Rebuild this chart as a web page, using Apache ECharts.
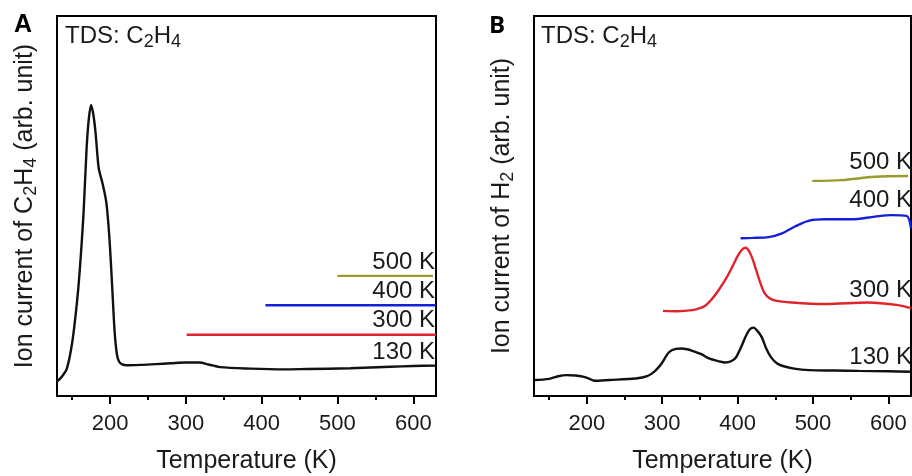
<!DOCTYPE html>
<html>
<head>
<meta charset="utf-8">
<title>TDS C2H4</title>
<script src="https://cdn.jsdelivr.net/npm/echarts@6/dist/echarts.min.js"></script>
<style>
  html, body { margin: 0; padding: 0; background: #fff; }
  #chart { width: 912px; height: 476px; }
</style>
</head>
<body>
<div id="chart"></div>
<script>
// Panel A: ion current of C2H4 (arb. unit) vs temperature (K)
const tempA130 = [130, 136, 143, 150, 156, 160, 165, 169, 172, 175, 178, 181, 185, 190, 195, 199, 203, 206, 209, 212, 216, 222, 240, 260, 280, 300, 318, 330, 345, 385, 429, 460, 517, 570, 600, 630]
const valA130 = [3.8, 5, 7.2, 14, 24, 33, 48, 65, 73, 76.6, 74, 69, 60, 56, 51, 42, 28, 17, 11, 9, 8.3, 8.1, 8.2, 8.4, 8.6, 8.8, 8.8, 8.3, 7.6, 7.2, 7.0, 7.1, 7.3, 7.7, 7.9, 8.0]
const tempA300 = [301, 630]
const valA300 = [16.1, 16.1]
const tempA400 = [405, 630]
const valA400 = [23.9, 23.9]
const tempA500 = [500, 626]
const valA500 = [31.6, 31.6]

// Panel B: ion current of H2 (arb. unit) vs temperature (K)
const tempB130 = [130, 150, 162, 173, 185, 195, 203, 210, 230, 265, 280, 290, 298, 309, 318, 325, 333, 340, 352, 362, 374, 384, 392, 398, 405, 411, 416, 421, 426, 432, 438, 444, 452, 460, 475, 495, 530, 560, 600, 630]
const valB130 = [4.2, 4.5, 5.2, 5.5, 5.4, 5.1, 4.6, 4.0, 4.2, 4.6, 5.2, 6.5, 8.2, 11.5, 12.4, 12.5, 12.3, 11.9, 11.0, 9.9, 9.2, 8.8, 9.2, 10.2, 13.0, 15.8, 17.5, 18.0, 17.2, 15.5, 12.5, 10.3, 8.6, 7.9, 7.2, 6.8, 6.7, 6.6, 6.5, 6.4]
const tempB300 = [301, 320, 340, 350, 358, 366, 375, 385, 393, 400, 405, 410, 414, 418, 422, 426, 431, 436, 442, 450, 472, 516, 573, 613, 630]
const valB300 = [22.4, 22.3, 22.6, 23.1, 23.9, 25.5, 27.9, 31, 34, 36.8, 38.3, 39, 38.5, 37, 34.8, 32.3, 29.3, 27.0, 25.8, 25.1, 24.6, 24.2, 24.6, 23.9, 23.1]
const tempB400 = [404, 420, 441, 459, 476, 494, 516, 551, 582, 604, 624, 630]
const valB400 = [41.5, 41.6, 41.8, 42.8, 44.6, 46.1, 46.5, 46.5, 47.2, 47.6, 47.4, 44.2]
const tempB500 = [499, 538, 582, 626]
const valB500 = [56.6, 56.8, 57.7, 57.9]

// Axis ticks and labels
const majorTicks = [200, 300, 400, 500, 600]
const minorTicks = [150, 250, 350, 450, 550]
const seriesNames = ['130 K', '300 K', '400 K', '500 K']

const colors = {
    '130 K': '#111111',
    '300 K': '#e0242b',
    '400 K': '#1420d8',
    '500 K': '#9a9a2e',
}

const FONT = '"Liberation Sans", Arial, sans-serif'
const TEXT = '#1a1a1a'

const zip = (xs, ys) => xs.map((x, i) => [x, ys[i]])

// rich styles: m = main text, s = subscript pushed down
const richFor = (size, subSize, drop) => ({
    m: { fontSize: size, fontFamily: FONT, color: TEXT, lineHeight: 30, verticalAlign: 'middle' },
    s: { fontSize: subSize, fontFamily: FONT, color: TEXT, lineHeight: 30 - 2 * drop, verticalAlign: 'bottom' },
})

// geometry of the two panels
const panels = [
    { left: 57, top: 16, width: 379, height: 380 },
    { left: 534, top: 16, width: 377, height: 380 },
]

// main axis (labels + major ticks) for one grid
const mainXAxis = gridIndex => ({
    gridIndex,
    type: 'value',
    position: 'bottom',
    min: 130,
    max: 630,
    axisLine: { show: false },
    splitLine: { show: false },
    axisTick: {
        show: true,
        length: 8,
        customValues: majorTicks,
        lineStyle: { color: '#000', width: 2 },
    },
    axisLabel: {
        customValues: majorTicks,
        fontSize: 22,
        fontFamily: FONT,
        color: TEXT,
        margin: 17,
    },
    name: 'Temperature (K)',
    nameLocation: 'middle',
    nameGap: 53,
    nameTextStyle: { fontSize: 25, fontFamily: FONT, color: TEXT },
})

// axis on an overlay grid, only for the short minor ticks
const minorXAxis = gridIndex => ({
    gridIndex,
    type: 'value',
    position: 'bottom',
    min: 130,
    max: 630,
    axisLine: { show: false },
    splitLine: { show: false },
    axisLabel: { show: false },
    axisTick: {
        show: true,
        length: 4,
        customValues: minorTicks,
        lineStyle: { color: '#000', width: 2 },
    },
})

const yAxis = (gridIndex, name) => ({
    gridIndex,
    type: 'value',
    min: 0,
    max: 100,
    axisLine: { show: false },
    axisTick: { show: false },
    axisLabel: { show: false },
    splitLine: { show: false },
    name,
    nameLocation: 'middle',
    nameRotate: 90,
    nameGap: 17,
    nameTextStyle: {
        fontSize: 25,
        fontFamily: FONT,
        color: TEXT,
        rich: richFor(25, 18, 7),
    },
})

const line = (name, panel, xs, ys) => ({
    name,
    type: 'line',
    xAxisIndex: panel,
    yAxisIndex: panel,
    data: zip(xs, ys),
    showSymbol: false,
    smooth: 0.3,
    lineStyle: { color: colors[name], width: 2.4 },
    animation: false,
})

// text boxes: panel letters, TDS labels, curve labels
const textBox = (text, pos, style) => Object.assign({
    text,
    padding: 0,
    textStyle: Object.assign({
        fontSize: 24,
        fontFamily: FONT,
        fontWeight: 'normal',
        color: TEXT,
        lineHeight: 30,
        rich: richFor(24, 18, 8),
    }, style || {}),
}, pos)

const labelCentersA = [262, 291, 320, 352]
const labelCentersB = [357, 290, 200, 162]

const titles = [
    textBox('A', { left: 14, top: 10 }, { fontSize: 25, fontWeight: 'bold', color: '#000' }),
    textBox('B', { left: 489, top: 11 }, { fontSize: 24, fontWeight: 'bold', fontFamily: '"Open Sans", sans-serif', color: '#000' }),
    textBox('{m|TDS: C}{s|2}{m|H}{s|4}', { left: 65, top: 21 }),
    textBox('{m|TDS: C}{s|2}{m|H}{s|4}', { left: 541, top: 21 }),
]
// curve labels, listed 500 K -> 130 K from top in A
;['500 K', '400 K', '300 K', '130 K'].forEach((n, i) => {
    titles.push(textBox(n, { right: 477, top: labelCentersA[i] - 15 }))
})
;['130 K', '300 K', '400 K', '500 K'].forEach((n, i) => {
    titles.push(textBox(n, { right: 0, top: labelCentersB[i] - 15 }))
})

const hiddenY = gridIndex => ({
    gridIndex, type: 'value', min: 0, max: 100, show: false,
})

const renderChart = () => {
    const myChart = echarts.init(document.getElementById('chart'), null, { renderer: 'canvas' })

    // outerBoundsMode none: keep the grids exactly where they are placed
    const frame = { show: true, borderColor: '#000', borderWidth: 2, backgroundColor: 'transparent', outerBoundsMode: 'none' }

    const option = {
        animation: false,
        backgroundColor: '#fff',
        title: titles,
        grid: [
            Object.assign({}, panels[0], frame),
            Object.assign({}, panels[1], frame),
            Object.assign({ show: false, outerBoundsMode: 'none' }, panels[0]),
            Object.assign({ show: false, outerBoundsMode: 'none' }, panels[1]),
        ],
        xAxis: [mainXAxis(0), mainXAxis(1), minorXAxis(2), minorXAxis(3)],
        yAxis: [
            yAxis(0, '{m|Ion current of C}{s|2}{m|H}{s|4}{m| (arb. unit)}'),
            yAxis(1, '{m|Ion current of H}{s|2}{m| (arb. unit)}'),
            hiddenY(2),
            hiddenY(3),
        ],
        series: [
            line(seriesNames[0], 0, tempA130, valA130),
            line(seriesNames[1], 0, tempA300, valA300),
            line(seriesNames[2], 0, tempA400, valA400),
            line(seriesNames[3], 0, tempA500, valA500),
            line(seriesNames[0], 1, tempB130, valB130),
            line(seriesNames[1], 1, tempB300, valB300),
            line(seriesNames[2], 1, tempB400, valB400),
            line(seriesNames[3], 1, tempB500, valB500),
        ],
    }

    myChart.setOption(option)
}

renderChart()
</script>
</body>
</html>
